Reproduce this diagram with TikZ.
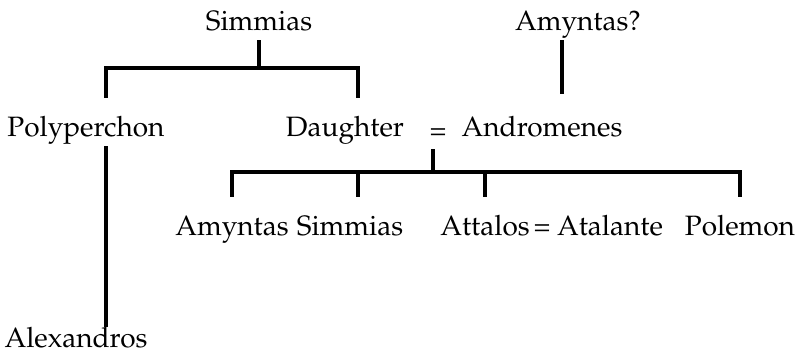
\documentclass[tikz,border=0pt]{standalone}
\usepackage[T1]{fontenc}
\usepackage{mathpazo}
\usepackage{tikz}

\begin{document}
\begin{tikzpicture}[x=0.5pt, y=-0.5pt,
                person/.style={font=\fontsize{14}{16}\selectfont, inner sep=0pt,
                               text height=10pt, text depth=3pt, anchor=base}, % names, set on the baseline
                famline/.style={line width=1.7pt}, % all family lines
                stem/.style={famline, shorten <=2pt}, % line hanging below a name
                drop/.style={famline, shorten >=9pt}, % line dropping onto a name
                bar/.style={famline, shorten <=9pt, shorten >=9pt} % sibling bar with its outer ends
                ]
                \useasboundingbox (0,0) rectangle (805,354);

                % first generation
                \node[person] (simmias) at (259,30) {Simmias};
                \node[person] (amyntasq) at (578,30) {Amyntas?};

                % second generation
                \node[person] (polyperchon) at (86,136) {Polyperchon};
                \node[person] (daughter) at (345,136) {Daughter};
                \node[person] (wed1) at (438,139) {=};
                \node[person] (andromenes) at (542,136) {Andromenes};

                % third generation
                \node[person] (amyntas) at (232,235) {Amyntas};
                \node[person] (simmiasb) at (350,235) {Simmias};
                \node[person] (attalos) at (485,235) {Attalos};
                \node[person] (wed2) at (542,235) {=};
                \node[person] (atalante) at (610,235) {Atalante};
                \node[person] (polemon) at (740,235) {Polemon};
                \node[person] (alexandros) at (76,347) {Alexandros};

                % Simmias' children
                \coordinate (simbar) at (257,68);
                \draw[stem] (simmias.south) -- (simmias.south |- simbar);
                \draw[bar] ([xshift=10pt]polyperchon.north) |- (simbar) -| ([xshift=6.5pt]daughter.north);
                \draw[stem] ([xshift=10pt]polyperchon.south) -- ([xshift=15pt]alexandros.north);

                % Andromenes
                \coordinate (amq) at ([xshift=-8pt]amyntasq.south);
                \draw[stem, shorten >=11pt] (amq) -- (amq |- andromenes.north);

                % children of Daughter = Andromenes
                \coordinate (wedtop) at ([xshift=-2.5pt]wed1.south);
                \coordinate (marbar) at (433,172);
                \draw[stem] (wedtop) -- (wedtop |- marbar);
                \draw[bar] (amyntas.north) |- (marbar) -| (polemon.north);
                \coordinate (simbtop) at ([xshift=4pt]simmiasb.north);
                \draw[drop] (simbtop |- marbar) -- (simbtop);
                \draw[drop] (attalos.north |- marbar) -- (attalos.north);
            \end{tikzpicture}
\end{document}
